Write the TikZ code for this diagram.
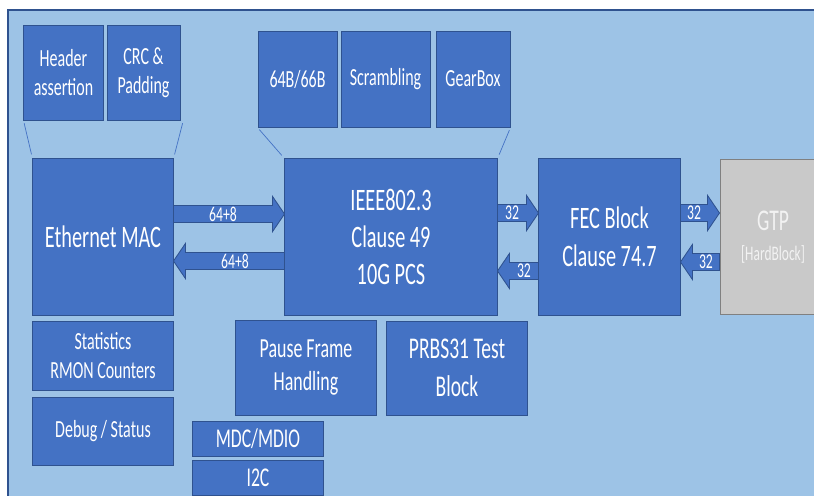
\documentclass[tikz,border=0pt]{standalone}
\usepackage{fontspec}
\setmainfont{Carlito}[FakeStretch=0.65]
\usepackage{xcolor}
\usetikzlibrary{calc}

\definecolor{bgblue}{HTML}{9DC3E6}
\definecolor{boxblue}{HTML}{4472C4}
\definecolor{edgeblue}{HTML}{2F528F}
\definecolor{hardgray}{HTML}{C9C9C9}

\begin{document}
\begin{tikzpicture}[
  x=0.025cm, y=-0.025cm,
  blk/.style={draw=edgeblue, fill=boxblue, text=white, align=center, inner sep=0pt, line width=0.7pt},
  bigtxt/.style={font=\fontsize{22.2}{26.5}\selectfont},
  midtxt/.style={font=\fontsize{19.6}{23.4}\selectfont},
  smalltxt/.style={font=\fontsize{17.5}{20.6}\selectfont},
  arrlabel/.style={text=white, inner sep=0pt, font=\fontsize{15}{16}\selectfont},
  zoomline/.style={draw=boxblue, line width=0.5pt, shorten <=2pt, shorten >=3pt},
  barrow/.style={draw=edgeblue, fill=boxblue, line width=0.6pt,
    to path={let \p1=(\tikztostart), \p2=(\tikztotarget),
      \p3=($(\tikztotarget)!8.5pt!(\tikztostart)$) in
      (\x1,\y1+6pt) -- (\x3,\y1+6pt) -- (\x3,\y1+12.5pt) -- (\x2,\y2)
      -- (\x3,\y1-12.5pt) -- (\x3,\y1-6pt) -- (\x1,\y1-6pt) -- cycle
      ($(\p1)!0.5!(\p3)$) node[arrlabel] {#1}}}
]
  \useasboundingbox (0,0) rectangle (814,495);
  \clip (0,0) rectangle (814,495);
  \draw[fill=bgblue, draw=edgeblue, line width=1.2pt] (8,10) rectangle (840,520);

  % MAC side
  \node[blk, smalltxt, minimum width=1.975cm, minimum height=2.375cm] (hdr) at (63.5,72.5) {Header\\assertion};
  \node[blk, smalltxt, minimum width=1.825cm, minimum height=2.375cm] (crc) at (143.5,72.5) {CRC \&\\Padding};
  \node[blk, bigtxt, minimum width=3.5cm, minimum height=3.9cm] (mac) at (103,237) {Ethernet MAC};
  \node[blk, smalltxt, minimum width=3.5cm, minimum height=1.725cm] (stats) at (103,355.5) {Statistics\\RMON Counters};
  \node[blk, smalltxt, minimum width=3.5cm, minimum height=1.7cm] (dbg) at (103,431) {Debug / Status};

  % PCS side
  \node[blk, smalltxt, minimum width=1.975cm, minimum height=2.4cm] (enc) at (297.5,79) {64B/66B};
  \node[blk, smalltxt, minimum width=2.225cm, minimum height=2.4cm] (scr) at (385.5,79) {Scrambling};
  \node[blk, smalltxt, minimum width=1.85cm, minimum height=2.4cm] (gear) at (473,79) {GearBox};
  \node[blk, bigtxt, minimum width=5.3cm, minimum height=3.9cm] (pcs) at (391,237) {IEEE802.3\\Clause 49\\10G PCS};
  \node[blk, midtxt, minimum width=3.5cm, minimum height=2.375cm] (pause) at (306,367.5) {Pause Frame\\Handling};
  \node[blk, font=\fontsize{21.4}{27}\selectfont, minimum width=3.5cm, minimum height=2.35cm] (prbs) at (457,368) {PRBS31 Test\\Block};
  \node[blk, font=\fontsize{19.3}{21}\selectfont, minimum width=3.25cm, minimum height=0.875cm] (mdio) at (258,438.5) {MDC/MDIO};
  \node[blk, font=\fontsize{19.3}{21}\selectfont, minimum width=3.25cm, minimum height=0.875cm] (iic) at (258,477.5) {I2C};

  % FEC and GTP
  \node[blk, font=\fontsize{22.2}{27}\selectfont, minimum width=3.525cm, minimum height=3.9cm] (fec) at (609.5,237) {FEC Block\\Clause 74.7};
  \node[blk, draw=gray, fill=hardgray, text=white!95!black, minimum width=2.65cm, minimum height=3.85cm] (gtp) at (773,237)
    {\fontsize{21.4}{23}\selectfont GTP\\[9pt]{\fontsize{14.7}{23}\selectfont\color{white!90!gray}[HardBlock]}};

  % zoom lines
  \draw[zoomline] (hdr.south west) -- (mac.north west);
  \draw[zoomline] ([xshift=2pt]crc.south east) -- (mac.north east);
  \draw[zoomline] (enc.south west) -- (pcs.north west);
  \draw[zoomline] (gear.south east) -- (pcs.north east);

  % data paths
  \draw[barrow=64+8] (mac.east |- 0,214) to (pcs.west |- 0,214);
  \draw[barrow=64+8] (pcs.west |- 0,261) to (mac.east |- 0,261);
  \draw[barrow=32] (pcs.east |- 0,213) to (fec.west |- 0,213);
  \draw[barrow=32] (fec.west |- 0,271) to (pcs.east |- 0,271);
  \draw[barrow=32] (fec.east |- 0,213) to (gtp.west |- 0,213);
  \draw[barrow=32] (gtp.west |- 0,262) to (fec.east |- 0,262);
\end{tikzpicture}
\end{document}
